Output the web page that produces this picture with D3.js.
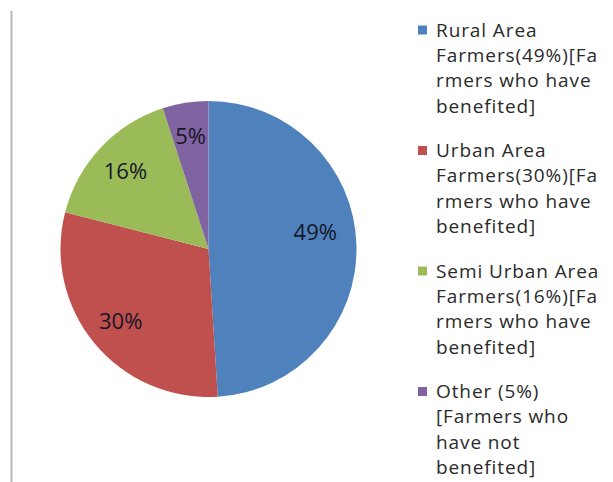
<!DOCTYPE html>
<html><head><meta charset="utf-8">
<script src="https://cdn.jsdelivr.net/npm/d3@7"></script>
<style>body{margin:0;background:#fff}svg{display:block}</style>
</head><body>
<svg id="c" width="613" height="482"></svg>
<script>
const categories = ["Rural Area Farmers(49%)[Farmers who have benefited]",
  "Urban Area Farmers(30%)[Farmers who have benefited]",
  "Semi Urban Area Farmers(16%)[Farmers who have benefited]",
  "Other (5%) [Farmers who have not benefited]"];
const legendLines = [
  ["Rural Area","Farmers(49%)[Fa","rmers who have","benefited]"],
  ["Urban Area","Farmers(30%)[Fa","rmers who have","benefited]"],
  ["Semi Urban Area","Farmers(16%)[Fa","rmers who have","benefited]"],
  ["Other (5%)","[Farmers who","have not","benefited]"]];
const values = [49, 30, 16, 5];
const colors = ["#4F81BD", "#C0504D", "#9BBB59", "#8064A2"];

const svg = d3.select("#c");
svg.append("line").attr("x1",11.5).attr("x2",11.5).attr("y1",11).attr("y2",482)
  .attr("stroke","#b8b8b8").attr("stroke-width",2);

const cx = 208.5, cy = 249, R = 148;
const pie = d3.pie().sort(null).value(d => d)(values);
const arc = d3.arc().innerRadius(0).outerRadius(R);
const labelArc = d3.arc().innerRadius(114).outerRadius(114);
const g = svg.append("g").attr("transform", `translate(${cx},${cy})`);
g.selectAll("path").data(pie).join("path")
  .attr("d", arc).attr("fill", (d,i) => colors[i]);
g.selectAll("text").data(pie).join("text")
  .attr("transform", d => {
    const a = (d.startAngle + d.endAngle) / 2 - (d.index === 0 ? 0.12 : 0);
    const r = d.index === 0 ? 108 : 114;
    return `translate(${r*Math.sin(a)},${-r*Math.cos(a)})`;
  })
  .attr("text-anchor","middle").attr("dy","0.35em")
  .attr("font-family","'Open Sans', sans-serif").attr("font-size",22)
  .attr("fill","#161628")
  .text(d => d.data + "%");

const lg = svg.append("g").attr("font-family","'Open Sans', sans-serif").attr("font-size",19)
  .attr("letter-spacing","0.9px").attr("fill","#2a2a2a");
const y0 = 30, groupStep = 120.5, lineStep = 25.3;
legendLines.forEach((lines, i) => {
  const gy = y0 + i*groupStep;
  lg.append("rect").attr("x",418).attr("y",gy-4.5).attr("width",9).attr("height",9).attr("fill",colors[i]);
  lines.forEach((t, j) => {
    lg.append("text").attr("x",436).attr("y",gy + j*lineStep).attr("dy","0.35em").text(t);
  });
});
</script>
</body></html>
